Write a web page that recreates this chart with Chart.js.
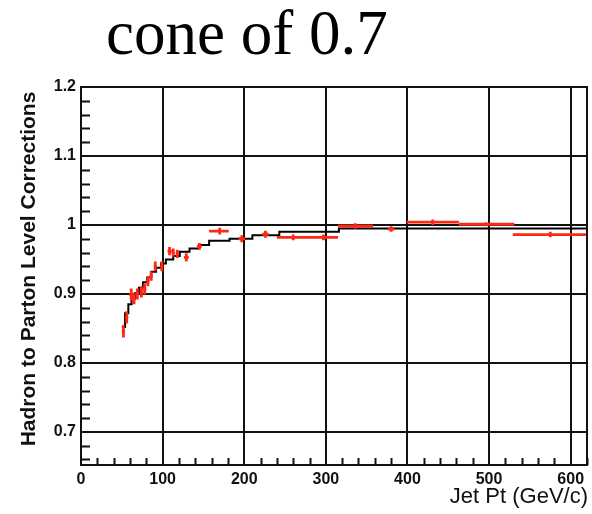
<!DOCTYPE html>
<html>
<head>
<meta charset="utf-8">
<script src="https://cdn.jsdelivr.net/npm/chart.js@4/dist/chart.umd.min.js"></script>
<style>
  body { margin: 0; background: #fff; }
  canvas { display: block; }
</style>
</head>
<body>
<canvas id="chart" width="592" height="514"></canvas>
<script>
// === Data ===
// red points: centre, bin low/high edge, y error
const ptX   = [52, 56, 61.5, 65, 69, 74, 78, 82, 86, 91, 99, 108.5, 113, 118, 129, 145, 170, 197, 226, 260, 297, 336, 380, 431, 496, 575];
const ptY   = [0.846, 0.866, 0.899, 0.893, 0.900, 0.903, 0.907, 0.918, 0.926, 0.940, 0.940, 0.962, 0.960, 0.958, 0.953, 0.969, 0.991, 0.980, 0.9865, 0.982, 0.982, 0.9985, 0.994, 1.004, 1.001, 0.986];
const ptXlo = [50, 54, 59, 63, 67, 72, 76, 80, 84, 89, 97, 106, 111, 116, 126, 142, 157, 193, 222, 240, 278, 315, 376, 399, 463, 529];
const ptXhi = [54, 58, 64, 67, 71, 76, 80, 84, 88, 93, 101, 111, 115, 120, 132, 148, 181, 201, 230, 278, 315, 358, 384, 463, 531, 620];
const ptYerr = [0.009, 0.009, 0.009, 0.008, 0.008, 0.008, 0.008, 0.007, 0.007, 0.007, 0.007, 0.006, 0.006, 0.006, 0.006, 0.005, 0.005, 0.005, 0.005, 0.004, 0.004, 0.004, 0.004, 0.004, 0.003, 0.004];

// black step histogram: bin edges and values
const histEdges = [50, 54, 58, 62, 66, 71, 76, 81, 86, 92, 98, 104, 113, 121, 133, 145, 157, 182, 210, 243, 316, 620];
const histVals  = [0.852, 0.872, 0.885, 0.893, 0.901, 0.909, 0.917, 0.924, 0.932, 0.938, 0.944, 0.950, 0.955, 0.961, 0.966, 0.971, 0.977, 0.980, 0.985, 0.990, 0.995];

// axis ticks
const xTicks = [0, 100, 200, 300, 400, 500, 600];
const yTicks = [0.7, 0.8, 0.9, 1.0, 1.1, 1.2];
const yTickLabels = ["0.7", "0.8", "0.9", "1", "1.1", "1.2"];

const xMin = 0, xMax = 620, yMin = 0.652, yMax = 1.2;

const histData = histEdges.map((e, i) => ({ x: e, y: histVals[Math.min(i, histVals.length - 1)] }));
const ptData = ptX.map((x, i) => ({ x: x, y: ptY[i] }));

// === extras: minor ticks, frame, error bars, titles ===
const extras = {
    id: "extras",
    afterDatasetsDraw(chart) {
        const ctx = chart.ctx;
        const xs = chart.scales.x, ys = chart.scales.y;
        const area = chart.chartArea;

        ctx.save();
        // red error bars
        ctx.strokeStyle = "rgb(255,40,20)";
        ctx.lineWidth = 2.8;
        ctx.beginPath();
        for (let i = 0; i < ptX.length; i++) {
            const cx = xs.getPixelForValue(ptX[i]);
            const cy = ys.getPixelForValue(ptY[i]);
            const l = xs.getPixelForValue(ptXlo[i]);
            const r = Math.min(xs.getPixelForValue(ptXhi[i]), area.right);
            ctx.moveTo(l, cy); ctx.lineTo(r, cy);
            ctx.moveTo(cx, ys.getPixelForValue(ptY[i] - ptYerr[i]));
            ctx.lineTo(cx, ys.getPixelForValue(ptY[i] + ptYerr[i]));
        }
        ctx.stroke();

        // minor ticks
        ctx.strokeStyle = "#111";
        ctx.lineWidth = 2;
        ctx.beginPath();
        for (let k = 33; k <= 60; k++) {
            if (k % 5 === 0) continue;
            const py = Math.round(ys.getPixelForValue(k * 0.02)) + 0.5;
            ctx.moveTo(area.left, py); ctx.lineTo(area.left + 9, py);
        }
        for (let k = 1; k <= 31; k++) {
            if (k % 5 === 0) continue;
            const px = Math.round(xs.getPixelForValue(k * 20)) + 0.5;
            ctx.moveTo(px, area.bottom); ctx.lineTo(px, area.bottom - 7);
        }
        ctx.stroke();

        // frame
        ctx.strokeRect(area.left, area.top, area.right - area.left, area.bottom - area.top);
        ctx.restore();
    },
    afterDraw(chart) {
        const ctx = chart.ctx;
        ctx.save();
        ctx.fillStyle = "#000";
        ctx.font = "63px 'Liberation Serif', 'Times New Roman', serif";
        ctx.textBaseline = "alphabetic";
        ctx.textAlign = "left";
        ctx.fillText("cone of 0.7", 106, 54);

        // axis titles
        ctx.fillStyle = "#111";
        ctx.font = "22px 'Liberation Sans', Arial, sans-serif";
        ctx.textAlign = "right";
        ctx.textBaseline = "middle";
        ctx.fillText("Jet Pt (GeV/c)", 588, 497);

        ctx.save();
        ctx.translate(29, 269);
        ctx.rotate(-Math.PI / 2);
        ctx.font = "bold 21px 'Liberation Sans', Arial, sans-serif";
        ctx.textAlign = "center";
        ctx.textBaseline = "middle";
        ctx.fillText("Hadron to Parton Level Corrections", 0, 0);
        ctx.restore();
        ctx.restore();
    }
};

const tickFont = { family: "'Liberation Sans', Arial, sans-serif", size: 16, weight: "bold" };

new Chart(document.getElementById("chart"), {
    type: "scatter",
    data: {
        datasets: [
            {
                type: "line",
                label: "hist",
                data: histData,
                stepped: true,
                borderColor: "#000",
                borderWidth: 2,
                pointRadius: 0,
                fill: false
            },
            {
                label: "points",
                data: ptData,
                pointRadius: 0,
                backgroundColor: "rgb(255,40,20)"
            }
        ]
    },
    options: {
        responsive: false,
        animation: false,
        layout: { padding: { top: 87, right: 5, left: 0, bottom: 0 } },
        plugins: {
            legend: { display: false },
            tooltip: { enabled: false }
        },
        scales: {
            x: {
                type: "linear",
                min: xMin,
                max: xMax,
                afterFit: s => { s.height = 49; },
                afterBuildTicks: s => { s.ticks = xTicks.map(v => ({ value: v })); },
                ticks: {
                    color: "#111",
                    font: tickFont,
                    padding: 5,
                    maxRotation: 0,
                    autoSkip: false
                },
                grid: { color: "#111", lineWidth: 2, drawTicks: false, tickLength: 0 },
                border: { color: "#111", width: 2 }
            },
            y: {
                type: "linear",
                min: yMin,
                max: yMax,
                afterFit: s => { s.width = 81; },
                afterBuildTicks: s => { s.ticks = yTicks.map(v => ({ value: v })); },
                ticks: {
                    color: "#111",
                    font: tickFont,
                    padding: 5,
                    autoSkip: false,
                    callback: (v, i) => yTickLabels[i]
                },
                grid: { color: "#111", lineWidth: 2, drawTicks: false, tickLength: 0 },
                border: { color: "#111", width: 2 }
            }
        }
    },
    plugins: [extras]
});
</script>
</body>
</html>
